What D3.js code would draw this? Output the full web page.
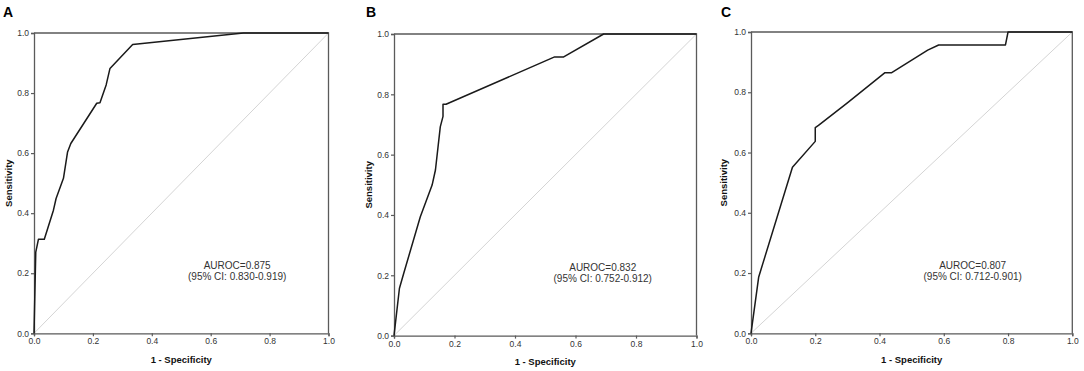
<!DOCTYPE html>
<html>
<head>
<meta charset="utf-8">
<script src="https://cdn.jsdelivr.net/npm/d3@7"></script>
<style>
  body { margin: 0; background: #fff; }
  svg { display: block; font-family: Arial, "Liberation Sans", sans-serif; }
</style>
</head>
<body>
<svg id="chart" width="1084" height="371"></svg>
<script>
// ---- data ----
const tickValues = [0, 0.2, 0.4, 0.6, 0.8, 1.0];
const panelLetters = ["A", "B", "C"];
const xLabel = "1 - Specificity";
const yLabel = "Sensitivity";

const fprA = [0, 0.006, 0.015, 0.035, 0.066, 0.075, 0.100, 0.114, 0.125, 0.213, 0.224, 0.245, 0.258, 0.335, 0.711, 1.0];
const tprA = [0, 0.270, 0.313, 0.313, 0.410, 0.449, 0.516, 0.604, 0.632, 0.766, 0.768, 0.827, 0.882, 0.962, 1.0, 1.0];

const fprB = [0, 0.018, 0.032, 0.087, 0.126, 0.137, 0.153, 0.162, 0.162, 0.172, 0.531, 0.561, 0.693, 1.0];
const tprB = [0, 0.157, 0.206, 0.394, 0.499, 0.549, 0.692, 0.727, 0.767, 0.767, 0.924, 0.924, 1.0, 1.0];

const fprC = [0, 0.024, 0.129, 0.200, 0.200, 0.210, 0.300, 0.417, 0.438, 0.550, 0.584, 0.792, 0.800, 1.0];
const tprC = [0, 0.187, 0.551, 0.637, 0.683, 0.690, 0.765, 0.865, 0.865, 0.940, 0.957, 0.957, 1.0, 1.0];

const aurocText = ["AUROC=0.875", "AUROC=0.832", "AUROC=0.807"];
const ciText = ["(95% CI: 0.830-0.919)", "(95% CI: 0.752-0.912)", "(95% CI: 0.712-0.901)"];

// ---- layout ----
const panels = [
  { letter: panelLetters[0], fpr: fprA, tpr: tprA, auroc: aurocText[0], ci: ciText[0],
    x0: 34, x1: 328.5, y0: 333.3, y1: 33, letterX: 3, sensX: 9 },
  { letter: panelLetters[1], fpr: fprB, tpr: tprB, auroc: aurocText[1], ci: ciText[1],
    x0: 394, x1: 696.5, y0: 335.6, y1: 34, letterX: 366, sensX: 369 },
  { letter: panelLetters[2], fpr: fprC, tpr: tprC, auroc: aurocText[2], ci: ciText[2],
    x0: 751, x1: 1072.3, y0: 333.3, y1: 32, letterX: 721, sensX: 724 }
];

const svg = d3.select("#chart");
const axisColor = "#5a5a5a";

panels.forEach(p => {
  const g = svg.append("g");
  const x = d3.scaleLinear().domain([0, 1]).range([p.x0, p.x1]);
  const y = d3.scaleLinear().domain([0, 1]).range([p.y0, p.y1]);

  // diagonal reference
  g.append("line")
    .attr("x1", x(0)).attr("y1", y(0)).attr("x2", x(1)).attr("y2", y(1))
    .attr("stroke", "#d4d4d4").attr("stroke-width", 1);

  // frame top/right
  g.append("path")
    .attr("d", `M${x(0)},${y(1)}H${x(1)}V${y(0)}`)
    .attr("fill", "none").attr("stroke", axisColor).attr("stroke-width", 1.3);

  // axes
  const fmt = d3.format(".1f");
  const xAxis = g.append("g").attr("transform", `translate(0,${y(0)})`)
    .call(d3.axisBottom(x).tickValues(tickValues).tickFormat(fmt).tickSize(3).tickPadding(2));
  const yAxis = g.append("g").attr("transform", `translate(${x(0)},0)`)
    .call(d3.axisLeft(y).tickValues(tickValues).tickFormat(fmt).tickSize(3).tickPadding(2));
  [xAxis, yAxis].forEach(a => {
    a.select(".domain").attr("stroke", axisColor).attr("stroke-width", 1.3);
    a.selectAll(".tick line").attr("stroke", axisColor).attr("stroke-width", 1.2);
    a.selectAll(".tick text").attr("fill", "#333").attr("font-size", "8.5px")
      .attr("font-family", "Arial, 'Liberation Sans', sans-serif");
  });

  // ROC curve
  const pts = p.fpr.map((f, i) => [f, p.tpr[i]]);
  g.append("path")
    .datum(pts)
    .attr("d", d3.line().x(d => x(d[0])).y(d => y(d[1])))
    .attr("fill", "none").attr("stroke", "#1a1a1a").attr("stroke-width", 1.5)
    .attr("stroke-linejoin", "round");

  // annotation
  g.append("text").attr("x", x(0.69)).attr("y", y(0.225) + 3.5)
    .attr("text-anchor", "middle").attr("font-size", "10px").attr("fill", "#333")
    .text(p.auroc);
  g.append("text").attr("x", x(0.69)).attr("y", y(0.225) + 14)
    .attr("text-anchor", "middle").attr("font-size", "10px").attr("fill", "#333")
    .text(p.ci);

  // axis titles
  g.append("text").attr("x", (p.x0 + p.x1) / 2).attr("y", p.y0 + 29.5)
    .attr("text-anchor", "middle").attr("font-size", "9.5px").attr("font-weight", "bold")
    .attr("fill", "#111").text(xLabel);
  g.append("text")
    .attr("transform", `translate(${p.sensX + 3},${(p.y0 + p.y1) / 2}) rotate(-90)`)
    .attr("text-anchor", "middle").attr("font-size", "9.5px").attr("font-weight", "bold")
    .attr("fill", "#111").text(yLabel);

  // panel letter
  g.append("text").attr("x", p.letterX).attr("y", 17)
    .attr("font-size", "14px").attr("font-weight", "bold").attr("fill", "#000")
    .text(p.letter);
});
</script>
</body>
</html>
